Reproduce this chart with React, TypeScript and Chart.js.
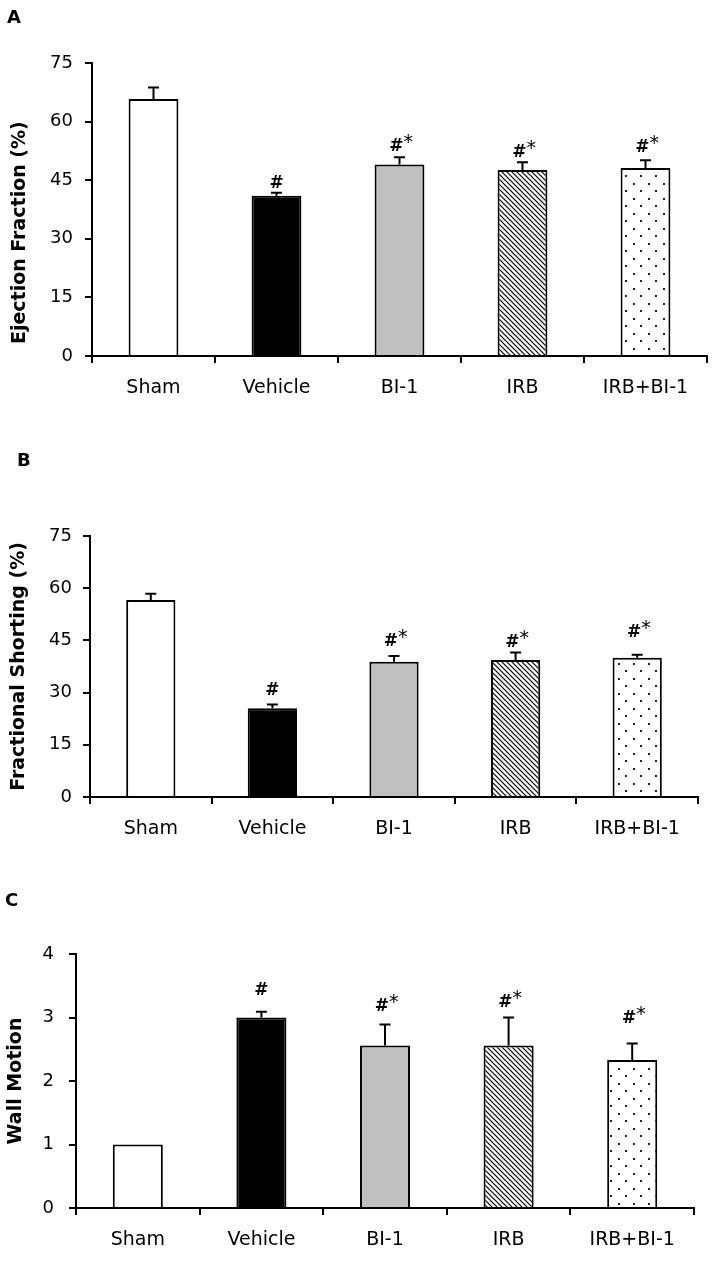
import React, { useEffect, useRef } from 'react';
import { Chart, registerables } from 'chart.js';

Chart.register(...registerables);

const categories = ['Sham', 'Vehicle', 'BI-1', 'IRB', 'IRB+BI-1'];
const marks = ['', '#', '#*', '#*', '#*'];

// Panel A: Ejection Fraction
const efMeans = [65.8, 41.0, 49.0, 47.6, 48.1];
const efErrors = [2.9, 0.8, 1.9, 2.0, 2.0];
const efMarkLevels = [null, 43.1, 52.6, 51.0, 52.1];
const efTicks = [0, 15, 30, 45, 60, 75];

// Panel B: Fractional Shorting
const fsMeans = [56.6, 25.5, 38.9, 39.4, 40.0];
const fsErrors = [1.8, 1.1, 1.6, 2.1, 0.9];
const fsMarkLevels = [null, 29.4, 43.4, 43.2, 46.1];
const fsTicks = [0, 15, 30, 45, 60, 75];

// Panel C: Wall Motion
const wmMeans = [1.0, 3.0, 2.56, 2.56, 2.33];
const wmErrors = [0, 0.09, 0.33, 0.44, 0.26];
const wmMarkLevels = [null, 3.35, 3.11, 3.17, 2.91];
const wmTicks = [0, 1, 2, 3, 4];

const FONT = "'DejaVu Sans', sans-serif";

function hatchPattern(ctx: CanvasRenderingContext2D) {
  const s = 5;
  const c = document.createElement('canvas');
  c.width = s;
  c.height = s;
  const g = c.getContext('2d')!;
  g.fillStyle = '#fff';
  g.fillRect(0, 0, s, s);
  g.strokeStyle = '#000';
  g.lineWidth = 1.2;
  g.beginPath();
  g.moveTo(-1, -1);
  g.lineTo(s + 1, s + 1);
  g.moveTo(-1, s - 1);
  g.lineTo(1, s + 1);
  g.moveTo(s - 1, -1);
  g.lineTo(s + 1, 1);
  g.stroke();
  return ctx.createPattern(c, 'repeat');
}

function dotPattern(ctx: CanvasRenderingContext2D) {
  const c = document.createElement('canvas');
  c.width = 15;
  c.height = 15;
  const g = c.getContext('2d')!;
  g.fillStyle = '#fff';
  g.fillRect(0, 0, 15, 15);
  g.fillStyle = '#222';
  g.fillRect(3, 3, 2, 2);
  g.fillRect(10, 10, 2, 2);
  return ctx.createPattern(c, 'repeat');
}

type PanelProps = {
  top: number;
  height: number;
  means: number[];
  errors: number[];
  levels: (number | null)[];
  ticks: number[];
  title: string;
  yWidth: number;
  xHeight: number;
  padTop: number;
  padRight: number;
  tickPad: number;
  titlePad: number;
};

function Panel(p: PanelProps) {
  const ref = useRef<HTMLCanvasElement | null>(null);
  useEffect(() => {
    const canvas = ref.current!;
    const ctx = canvas.getContext('2d')!;
    const fills = ['#ffffff', '#000000', '#c0c0c0', hatchPattern(ctx), dotPattern(ctx)];
    const errPlugin = {
      id: 'errsAndMarks',
      afterDatasetsDraw(chart: any) {
        const c = chart.ctx as CanvasRenderingContext2D;
        const meta = chart.getDatasetMeta(0);
        const ys = chart.scales.y;
        c.save();
        c.strokeStyle = '#000';
        c.lineWidth = 2;
        meta.data.forEach((el: any, i: number) => {
          const e = p.errors[i];
          if (e > 0) {
            const yt = ys.getPixelForValue(p.means[i] + e);
            c.beginPath();
            c.moveTo(el.x, el.y);
            c.lineTo(el.x, yt);
            c.moveTo(el.x - 5.5, yt);
            c.lineTo(el.x + 5.5, yt);
            c.stroke();
          }
          const lv = p.levels[i];
          const m = marks[i];
          if (lv != null && m) {
            const y = ys.getPixelForValue(lv);
            c.fillStyle = '#000';
            c.textBaseline = 'alphabetic';
            if (m === '#') {
              c.font = `bold 17px ${FONT}`;
              c.textAlign = 'center';
              c.fillText('#', el.x, y);
            } else {
              c.font = `bold 17px ${FONT}`;
              c.textAlign = 'right';
              c.fillText('#', el.x + 4, y);
              c.font = `19px ${FONT}`;
              c.textAlign = 'left';
              c.fillText('*', el.x + 4, y - 3);
            }
          }
        });
        c.restore();
      },
    };
    const chart = new Chart(canvas, {
      type: 'bar',
      data: {
        labels: categories,
        datasets: [
          {
            data: p.means,
            backgroundColor: fills as any,
            borderColor: '#000',
            borderWidth: 2,
            barPercentage: 0.405,
            categoryPercentage: 1,
          },
        ],
      },
      options: {
        responsive: false,
        animation: false,
        devicePixelRatio: 1,
        layout: { padding: { top: p.padTop, right: p.padRight, left: 0, bottom: 0 } },
        plugins: { legend: { display: false }, tooltip: { enabled: false } },
        scales: {
          x: {
            grid: {
              offset: true,
              drawOnChartArea: false,
              drawTicks: true,
              tickLength: 7,
              color: '#000',
              lineWidth: 2,
            },
            border: { display: true, color: '#000', width: 2 },
            ticks: {
              color: '#000',
              font: { family: FONT, size: 19 },
              padding: 14,
              autoSkip: false,
              maxRotation: 0,
            },
            afterFit: (s: any) => {
              s.height = p.xHeight;
            },
          },
          y: {
            min: p.ticks[0],
            max: p.ticks[p.ticks.length - 1],
            afterBuildTicks: (s: any) => {
              s.ticks = p.ticks.map((v) => ({ value: v }));
            },
            grid: {
              drawOnChartArea: false,
              drawTicks: true,
              tickLength: 7,
              color: '#000',
              lineWidth: 2,
            },
            border: { display: true, color: '#000', width: 2 },
            ticks: {
              color: '#000',
              font: { family: FONT, size: 18 },
              padding: p.tickPad,
            },
            title: {
              display: true,
              text: p.title,
              color: '#000',
              font: { family: FONT, size: 19, weight: 'bold' },
              padding: { top: p.titlePad, bottom: 0 },
            },
            afterFit: (s: any) => {
              s.width = p.yWidth;
            },
          },
        },
      },
      plugins: [errPlugin],
    } as any);
    return () => chart.destroy();
  }, []);
  return (
    <canvas
      ref={ref}
      width={714}
      height={p.height}
      style={{ position: 'absolute', left: 0, top: p.top, width: 714, height: p.height }}
    />
  );
}

const letterStyle: React.CSSProperties = {
  position: 'absolute',
  fontFamily: FONT,
  fontWeight: 'bold',
  fontSize: 18,
  lineHeight: 1,
  color: '#000',
};

export default function App() {
  return (
    <div style={{ position: 'absolute', left: 0, top: 0, width: 714, height: 1275, background: '#fff' }}>
      <Panel
        top={0}
        height={420}
        means={efMeans}
        errors={efErrors}
        levels={efMarkLevels}
        ticks={efTicks}
        title={'Ejection Fraction (%)\u00a0\u00a0\u00a0\u00a0\u00a0\u00a0\u00a0'}
        yWidth={92}
        xHeight={64}
        padTop={63}
        padRight={7}
        tickPad={12}
        titlePad={9}
      />
      <Panel
        top={420}
        height={420}
        means={fsMeans}
        errors={fsErrors}
        levels={fsMarkLevels}
        ticks={fsTicks}
        title={'Fractional Shorting (%)'}
        yWidth={90}
        xHeight={43}
        padTop={116}
        padRight={16}
        tickPad={11}
        titlePad={8}
      />
      <Panel
        top={840}
        height={435}
        means={wmMeans}
        errors={wmErrors}
        levels={wmMarkLevels}
        ticks={wmTicks}
        title={'Wall Motion'}
        yWidth={76}
        xHeight={67}
        padTop={114}
        padRight={20}
        tickPad={15}
        titlePad={5}
      />
      <div style={{ ...letterStyle, left: 7, top: 8 }}>A</div>
      <div style={{ ...letterStyle, left: 17, top: 451 }}>B</div>
      <div style={{ ...letterStyle, left: 5, top: 891 }}>C</div>
    </div>
  );
}
